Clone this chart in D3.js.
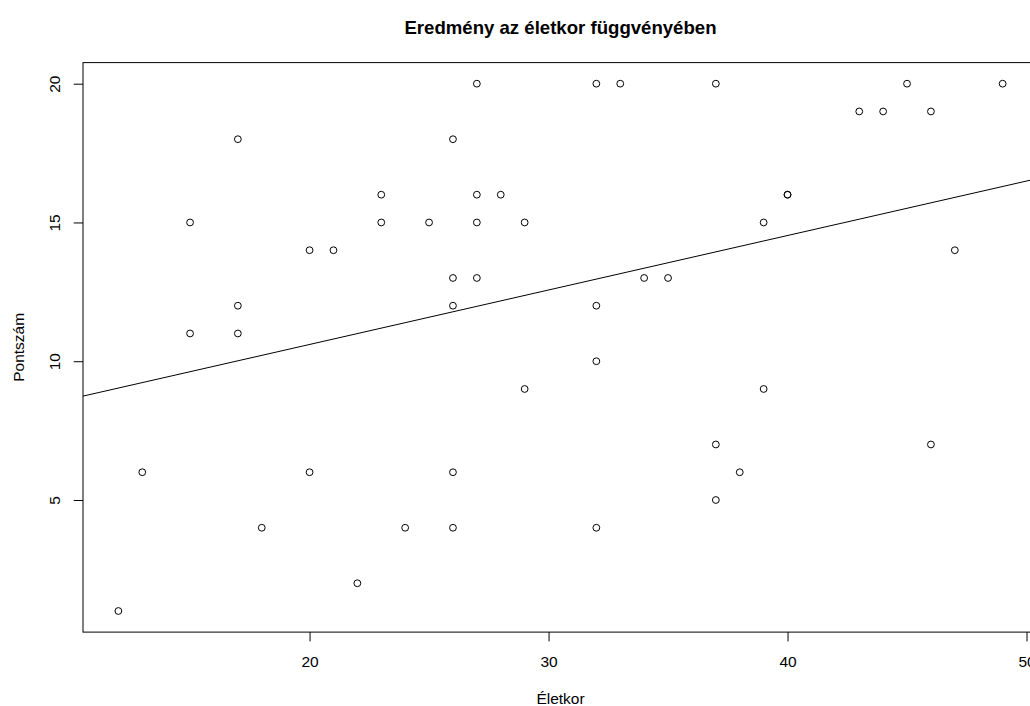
<!DOCTYPE html>
<html>
<head>
<meta charset="utf-8">
<script src="https://cdn.jsdelivr.net/npm/d3@7"></script>
<style>
  body { margin: 0; background: #fff; }
  text { font-family: "Liberation Sans", Arial, sans-serif; fill: #000; }
</style>
</head>
<body>
<div class="chart"></div>
<script>
// data
var ages = [12, 13, 15, 15, 17, 17, 17, 18, 20, 20, 21, 22, 23, 23, 24, 25,
  26, 26, 26, 26, 26, 27, 27, 27, 27, 28, 29, 29, 32, 32, 32, 32, 33, 34, 35,
  37, 37, 37, 38, 39, 39, 40, 40, 43, 44, 45, 46, 46, 47, 49];
var scores = [1, 6, 15, 11, 18, 12, 11, 4, 14, 6, 14, 2, 16, 15, 4, 15,
  18, 13, 12, 6, 4, 20, 16, 15, 13, 16, 15, 9, 20, 12, 10, 4, 20, 13, 13,
  20, 7, 5, 6, 15, 9, 16, 16, 19, 19, 20, 19, 7, 14, 20];
var xTicks = [20, 30, 40, 50];
var yTicks = [5, 10, 15, 20];
var title = "Eredmény az életkor függvényében";
var xLabel = "Életkor";
var yLabel = "Pontszám";

var svgWidth = 1030;
var svgHeight = 706;

var margin = {
  top: 62.6,
  left: 83
};
var width = 955;
var height = 569.5;

var Data = ages.map(function(a, i) {
  return { age: a, score: scores[i] };
});

// R style axis range: data extent padded by 4%
function padded(ext) {
  var p = (ext[1] - ext[0]) * 0.04;
  return [ext[0] - p, ext[1] + p];
}

var xLinearScale = d3.scaleLinear()
  .domain(padded(d3.extent(ages)))
  .range([0, width]);

var yLinearScale = d3.scaleLinear()
  .domain(padded(d3.extent(scores)))
  .range([height, 0]);

// least squares fit (abline(lm(...)))
var mx = d3.mean(ages);
var my = d3.mean(scores);
var sxy = d3.sum(Data, d => (d.age - mx) * (d.score - my));
var sxx = d3.sum(Data, d => (d.age - mx) * (d.age - mx));
var slope = sxy / sxx;
var intercept = my - slope * mx;

var svg = d3
  .select(".chart")
  .append("svg")
  .attr("width", svgWidth)
  .attr("height", svgHeight);

var chartGroup = svg.append("g")
  .attr("transform", `translate(${margin.left}, ${margin.top})`);

var bottomAxis = d3.axisBottom(xLinearScale)
  .tickValues(xTicks)
  .tickSizeOuter(0)
  .tickSize(9.3);
var leftAxis = d3.axisLeft(yLinearScale)
  .tickValues(yTicks)
  .tickSizeOuter(0)
  .tickSize(9.3);

var xAxis = chartGroup.append("g")
  .attr("transform", `translate(0, ${height})`)
  .call(bottomAxis);
xAxis.select(".domain").remove();
xAxis.selectAll("line").attr("stroke", "#000");
xAxis.selectAll("text")
  .attr("y", 35)
  .attr("dy", null)
  .attr("font-size", "15.5px")
  .attr("font-family", null);

var yAxis = chartGroup.append("g")
  .call(leftAxis);
yAxis.select(".domain").remove();
yAxis.selectAll("line").attr("stroke", "#000");
yAxis.selectAll("text")
  .attr("transform", "rotate(-90)")
  .attr("x", 0)
  .attr("y", -23)
  .attr("dy", null)
  .attr("text-anchor", "middle")
  .attr("font-size", "15.5px")
  .attr("font-family", null);

// plot box
chartGroup.append("rect")
  .attr("x", 0)
  .attr("y", 0)
  .attr("width", width)
  .attr("height", height)
  .attr("fill", "none")
  .attr("stroke", "#000")
  .attr("stroke-width", 1);

var circlesGroup = chartGroup.selectAll("circle")
  .data(Data)
  .enter()
  .append("circle")
  .attr("cx", d => xLinearScale(d.age))
  .attr("cy", d => yLinearScale(d.score))
  .attr("r", 3.4)
  .attr("fill", "none")
  .attr("stroke", "#000")
  .attr("stroke-width", 1);

var xd = xLinearScale.domain();
chartGroup.append("line")
  .attr("x1", xLinearScale(xd[0]))
  .attr("y1", yLinearScale(intercept + slope * xd[0]))
  .attr("x2", xLinearScale(xd[1]))
  .attr("y2", yLinearScale(intercept + slope * xd[1]))
  .attr("stroke", "#000")
  .attr("stroke-width", 1);

// titles
svg.append("text")
  .attr("x", margin.left + width / 2)
  .attr("y", 34)
  .attr("text-anchor", "middle")
  .attr("font-size", "18.6px")
  .attr("font-weight", "bold")
  .text(title);

svg.append("text")
  .attr("x", margin.left + width / 2)
  .attr("y", 704)
  .attr("text-anchor", "middle")
  .attr("font-size", "15.5px")
  .text(xLabel);

svg.append("text")
  .attr("transform", "rotate(-90)")
  .attr("x", -(margin.top + height / 2))
  .attr("y", 24)
  .attr("text-anchor", "middle")
  .attr("font-size", "15.5px")
  .text(yLabel);
</script>
</body>
</html>
